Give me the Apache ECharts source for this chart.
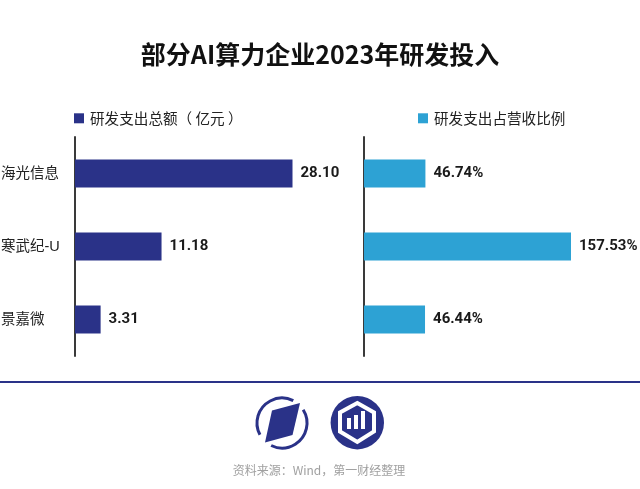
<!DOCTYPE html>
<html>
<head>
<meta charset="utf-8">
<style>
  html, body { margin: 0; padding: 0; background: #fff; }
  #chart { width: 640px; height: 489px; }
</style>
<script src="https://cdn.jsdelivr.net/npm/echarts@6/dist/echarts.min.js"></script>
</head>
<body>
<div id="chart"></div>
<script>
const cjk = '"Noto Sans CJK SC", sans-serif';
const latin = '"Liberation Sans", "Noto Sans CJK SC", sans-serif';
const num = 'Roboto, "Noto Sans CJK SC", sans-serif';

const companies = ['海光信息', '寒武纪-U', '景嘉微'];
const spendName = '研发支出总额（ 亿元 ）';
const ratioName = '研发支出占营收比例';
const spend = [28.10, 11.18, 3.31];
const ratio = [46.74, 157.53, 46.44];

const navy = '#2a3288';
const blue = '#2da2d4';
const axisColor = '#3a3a3a';

const chart = echarts.init(document.getElementById('chart'), null, { renderer: 'canvas' });

function yAxis(gridIndex, showLabel) {
  return {
    type: 'category',
    gridIndex,
    inverse: true,
    data: companies,
    axisTick: { show: false },
    axisLine: { lineStyle: { color: axisColor, width: 2 } },
    axisLabel: {
      show: showLabel,
      align: 'left',
      margin: 74,
      fontFamily: latin,
      fontSize: 14.5,
      color: '#222'
    }
  };
}

function xAxis(gridIndex, max) {
  return { type: 'value', gridIndex, min: 0, max, show: false };
}

function bars(name, index, data, color, fmt) {
  return {
    name,
    type: 'bar',
    xAxisIndex: index,
    yAxisIndex: index,
    data,
    barWidth: 28,
    silent: true,
    itemStyle: { color },
    label: {
      show: true,
      position: 'right',
      distance: 8,
      padding: [4, 0, 0, 0],
      formatter: fmt,
      fontFamily: num,
      fontWeight: 'bold',
      fontSize: 15,
      color: '#1a1a1a'
    }
  };
}

function legend(name, left) {
  return {
    data: [name],
    left,
    top: 106,
    icon: 'rect',
    itemWidth: 10,
    itemHeight: 10,
    selectedMode: false,
    textStyle: { fontFamily: cjk, fontSize: 14.6, color: '#222', padding: [0, 0, 0, 1] }
  };
}

chart.setOption({
  animation: false,
  backgroundColor: '#fff',
  title: {
    text: '部分AI算力企业2023年研发投入',
    left: 'center',
    top: 37,
    textStyle: { fontFamily: cjk, fontWeight: 'bold', fontSize: 25, color: '#111' }
  },
  legend: [legend(spendName, 69), legend(ratioName, 413)],
  grid: [
    { left: 75, top: 137, width: 217.5, height: 219, outerBoundsMode: 'none' },
    { left: 364, top: 137, width: 207, height: 219, outerBoundsMode: 'none' }
  ],
  xAxis: [xAxis(0, 28.1), xAxis(1, 157.53)],
  yAxis: [yAxis(0, true), yAxis(1, false)],
  series: [
    bars(spendName, 0, spend, navy, p => p.value.toFixed(2)),
    bars(ratioName, 1, ratio, blue, p => p.value.toFixed(2) + '%')
  ],
  graphic: [
    // footer rule
    { type: 'line', shape: { x1: 0, y1: 382, x2: 640, y2: 382 }, style: { stroke: navy, lineWidth: 2 } },
    // left logo
    { type: 'arc', shape: { cx: 282, cy: 423, r: 25, startAngle: 2.65, endAngle: 5.18, clockwise: true },
      style: { stroke: navy, lineWidth: 3, fill: null } },
    { type: 'arc', shape: { cx: 282, cy: 423, r: 25, startAngle: -0.56, endAngle: 2.02, clockwise: true },
      style: { stroke: navy, lineWidth: 3, fill: null } },
    { type: 'polygon', shape: { points: [[272, 410.5], [300, 403], [292.5, 435], [265, 442.5]] },
      style: { fill: navy } },
    // right logo
    { type: 'circle', shape: { cx: 357.3, cy: 422.7, r: 26.7 }, style: { fill: navy } },
    { type: 'polygon', shape: { points: [[357.3, 403], [374, 412.5], [374, 431.5], [357.3, 442], [340, 431.5], [340, 412.5]] },
      style: { fill: navy, stroke: '#fff', lineWidth: 4 } },
    { type: 'rect', shape: { x: 347, y: 418, width: 4, height: 11 }, style: { fill: '#fff' } },
    { type: 'rect', shape: { x: 354, y: 415, width: 4, height: 14 }, style: { fill: '#fff' } },
    { type: 'rect', shape: { x: 361, y: 411, width: 4, height: 18 }, style: { fill: '#fff' } },
    // source
    { type: 'text', x: 319, y: 470, style: { text: '资料来源：Wind，第一财经整理', fontFamily: cjk, fontSize: 12,
      fill: '#a0a0a0', align: 'center', verticalAlign: 'middle' } }
  ]
});
</script>
</body>
</html>
